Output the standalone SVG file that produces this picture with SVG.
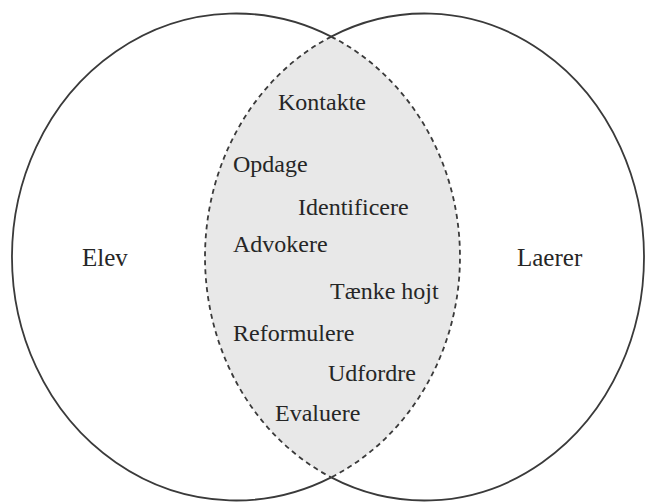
<svg xmlns="http://www.w3.org/2000/svg" width="646" height="504" viewBox="0 0 646 504">
  <style>
    .solid { fill: none; stroke: #3a3a3a; stroke-width: 1.8; }
    .dash { fill: none; stroke: #3a3a3a; stroke-width: 1.8; stroke-dasharray: 5 4; }
    .lens { fill: #e8e8e8; stroke: none; }
    text { font-family: "Liberation Serif", "Times New Roman", serif; font-size: 24px; fill: #262626; }
    .outer { font-size: 25px; }
  </style>
  <rect width="646" height="504" fill="#ffffff"/>
  <g id="overlap">
    <path class="lens" d="M 331.2 36.6 A 224 243.5 0 0 1 331.2 477.4 A 219.5 243.5 0 0 1 331.2 36.6 Z"/>
  </g>
  <g id="elev-circle">
    <path class="solid" d="M 331.2 36.6 A 224 243.5 0 1 0 331.2 477.4"/>
    <path class="dash" d="M 331.2 36.6 A 224 243.5 0 0 1 331.2 477.4"/>
  </g>
  <g id="laerer-circle">
    <path class="solid" d="M 331.2 36.6 A 219.5 243.5 0 1 1 331.2 477.4"/>
    <path class="dash" d="M 331.2 36.6 A 219.5 243.5 0 0 0 331.2 477.4"/>
  </g>
  <g id="labels">
    <text class="outer" x="82" y="266">Elev</text>
    <text class="outer" x="517" y="266">Laerer</text>
    <text x="278" y="110">Kontakte</text>
    <text x="233" y="172">Opdage</text>
    <text x="298" y="215">Identificere</text>
    <text x="233" y="252">Advokere</text>
    <text x="330" y="299">Tænke hojt</text>
    <text x="233" y="341">Reformulere</text>
    <text x="328" y="381">Udfordre</text>
    <text x="275" y="421">Evaluere</text>
  </g>
</svg>
